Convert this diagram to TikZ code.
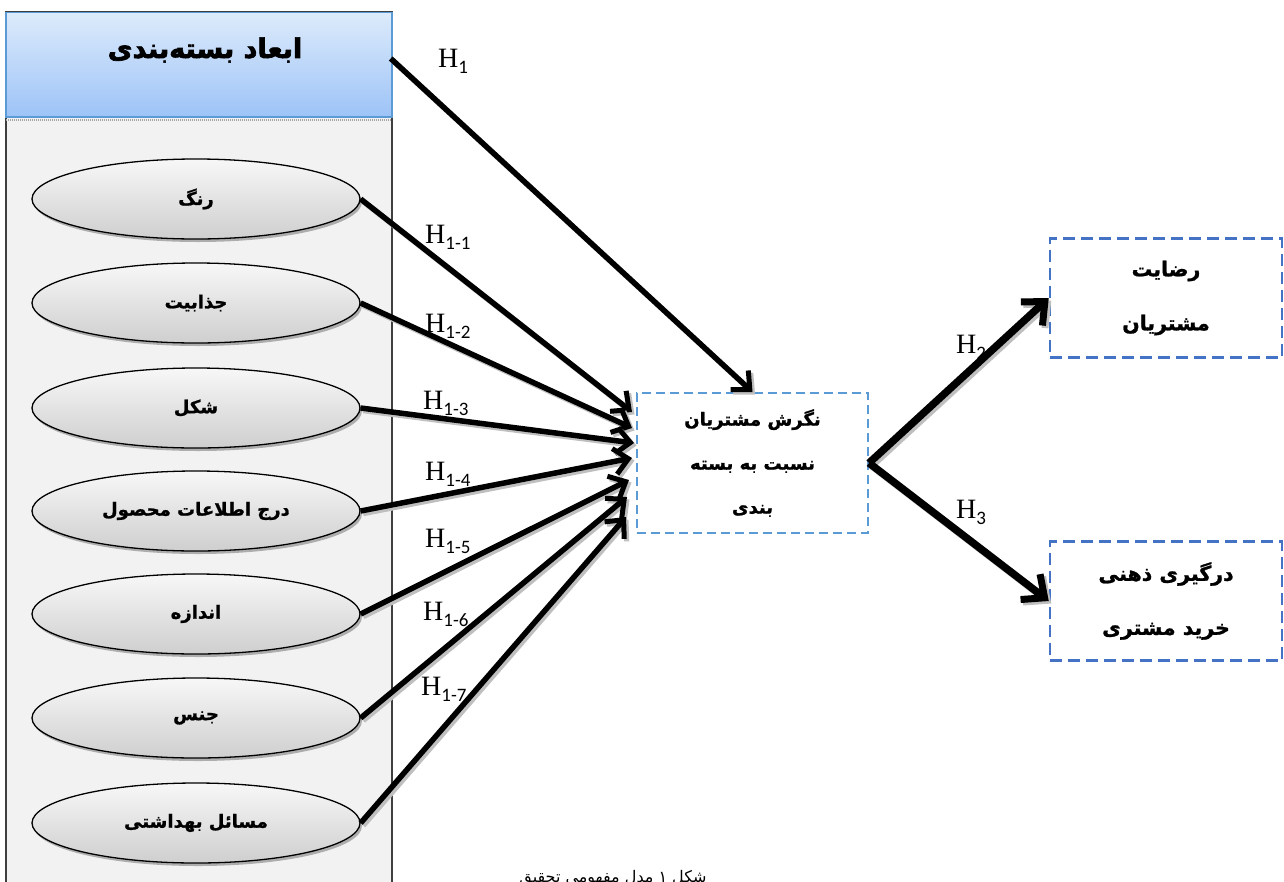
\documentclass[tikz,border=0pt]{standalone}
\usepackage{fontspec}
\usetikzlibrary{shapes.geometric,arrows.meta,calc,shadows}
\newfontfamily\fa[Script=Arabic,BoldFeatures={FakeBold=1.2}]{DejaVu Sans}
\newfontfamily\fatitle[Script=Arabic,BoldFeatures={FakeBold=2.5}]{DejaVu Sans}
\newfontfamily\hfont{Liberation Serif}
\newfontfamily\subfont{Carlito}
\TeXXeTstate=1
\newcommand\hlab[1]{{\hfont\fontsize{28}{30}\selectfont H}{\subfont\fontsize{19}{20}\selectfont\raisebox{-6pt}{#1}}}
\newcommand\fat[1]{\beginR #1\endR}
\definecolor{hdtop}{HTML}{DDEBFB}
\definecolor{hdbot}{HTML}{9DC3F7}
\definecolor{hdline}{HTML}{5B9BD5}
\definecolor{pnfill}{HTML}{F2F2F2}
\definecolor{pnline}{HTML}{3F3F3F}
\definecolor{cline}{HTML}{5B9BD5}
\definecolor{rline}{HTML}{4472C4}
\tikzset{
  ell/.style={ellipse, draw=black, line width=1.3pt, minimum width=328, minimum height=80, inner sep=0,
    top color=gray!6, bottom color=gray!38,
    drop shadow={shadow xshift=2pt, shadow yshift=-3pt, fill=gray!70, opacity=0.9},
    font=\fa\bfseries\fontsize{18}{20}\selectfont},
  cbox/.style={draw=cline, line width=2pt, dash pattern=on 9pt off 5pt, minimum width=231, minimum height=140,
    inner sep=0, align=center, font=\fa\bfseries\fontsize{18}{44}\selectfont},
  rbox/.style={draw=rline, line width=2.5pt, dash pattern=on 12pt off 6pt, minimum width=232, minimum height=119,
    inner sep=0, align=center, font=\fa\bfseries\fontsize{20.5}{54}\selectfont},
  arr/.style={line width=5.5pt, -{Straight Barb[length=14pt,width=26pt,line width=5pt]},
    preaction={draw=gray!50, line width=5.5pt, transform canvas={shift={(2.5pt,-2.5pt)}}}},
  barr/.style={line width=7.5pt, -{Straight Barb[length=18pt,width=32pt,line width=7pt]},
    preaction={draw=gray!50, line width=7.5pt, transform canvas={shift={(2.5pt,-2.5pt)}}}},
  hl/.style={anchor=base west, inner sep=0}
}
\begin{document}
\begin{tikzpicture}[x=1pt,y=-1pt]
\path[use as bounding box] (0,0) rectangle (1284,881);
\clip (0,0) rectangle (1284,881);
\fill[white] (0,0) rectangle (1284,881);
% left panel
\node[draw=pnline, line width=1.5pt, fill=pnfill, minimum width=386, minimum height=790, inner sep=0] (pn) at (199,512) {};
\node[draw=hdline, line width=1.5pt, top color=hdtop, bottom color=hdbot, minimum width=386, minimum height=105, inner sep=0] (hd) at (199,64.5) {};
\draw[pnline, line width=1pt] (hd.north west) -- (hd.north east);
\draw[gray!70, line width=1.5pt, dash pattern=on 1pt off 1pt] ($(hd.south west)+(1,2)$) -- ($(hd.south east)+(-1,2)$);
\node[font=\fatitle\bfseries\fontsize{27}{30}\selectfont, inner sep=0] (title) at (205,50) {\fat{ابعاد بسته‌بندی}};
% ellipses
\node[ell] (e1) at (196,199) {\fat{رنگ}};
\node[ell] (e2) at (196,303) {\fat{جذابیت}};
\node[ell] (e3) at (196,408) {\fat{شکل}};
\node[ell] (e4) at (196,511) {\fat{درج اطلاعات محصول}};
\node[ell] (e5) at (196,614) {\fat{اندازه}};
\node[ell] (e6) at (196,718) {\fat{جنس}};
\node[ell] (e7) at (196,823) {\fat{مسائل بهداشتی}};
% centre and right boxes
\node[cbox] (c) at (752.5,463) {\fat{نگرش مشتریان}\\\fat{نسبت به بسته}\\\fat{بندی}};
\node[rbox] (r1) at (1166,298) {\fat{رضایت}\\\fat{مشتریان}};
\node[rbox] (r2) at (1166,601) {\fat{درگیری ذهنی}\\\fat{خرید مشتری}};
% labels
\node[hl] (l0) at (438,67) {\hlab{1}};
\node[hl] (l1) at (425,243) {\hlab{1-1}};
\node[hl] (l2) at (425,332) {\hlab{1-2}};
\node[hl] (l3) at (423,409) {\hlab{1-3}};
\node[hl] (l4) at (425,480) {\hlab{1-4}};
\node[hl] (l5) at (425,547) {\hlab{1-5}};
\node[hl] (l6) at (423,620) {\hlab{1-6}};
\node[hl] (l7) at (421,695) {\hlab{1-7}};
\node[hl] (l8) at (956,353) {\hlab{2}};
\node[hl] (l9) at (956,518) {\hlab{3}};
% arrows
\draw[arr] ($(hd.east)+(-2,-6)$) -- (c.north);
\draw[arr] (e1.east) -- ($(c.west)+(-4,-51)$);
\draw[arr] (e2.east) -- ($(c.west)+(-4,-35)$);
\draw[arr] (e3.east) -- ($(c.west)+(-2,-20)$);
\draw[arr] (e4.east) -- ($(c.west)+(-4,-5)$);
\draw[arr] (e5.east) -- ($(c.west)+(-7,17)$);
\draw[arr] (e6.east) -- ($(c.west)+(-9,34)$);
\draw[arr] (e7.east) -- ($(c.west)+(-10,54)$);
\draw[barr] (c.east) -- (r1.west);
\draw[barr] (c.east) -- (r2.west);
% caption
\node[font=\fa\fontsize{16}{20}\selectfont, anchor=base, inner sep=0] (cap) at (613,882) {\fat{شکل ۱ مدل مفهومی تحقیق}};
\end{tikzpicture}
\end{document}
